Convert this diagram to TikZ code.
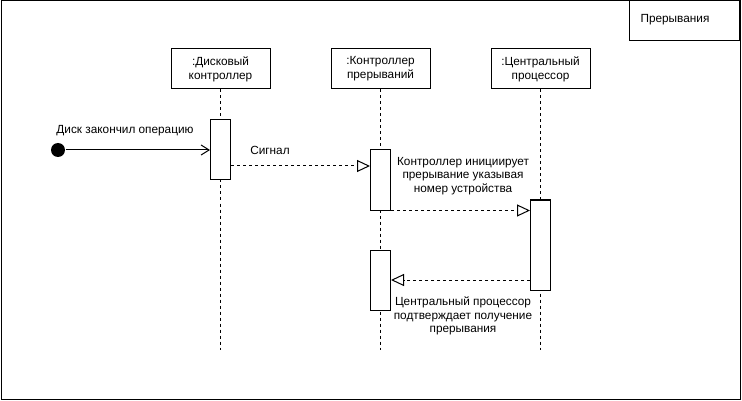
\documentclass[tikz,border=0pt]{standalone}
\usepackage{fontspec}
\setmainfont{Liberation Sans}
\usetikzlibrary{arrows.meta}
\begin{document}
\begin{tikzpicture}[x=1pt,y=-1pt,line width=1pt,
  txt/.style={font=\fontsize{11.8}{13.8}\selectfont, align=center, inner sep=0pt},
  head/.style={draw, fill=white, minimum width=99pt, minimum height=40pt, txt},
  act/.style={draw, fill=white, minimum width=20pt, inner sep=0pt},
  life/.style={dash pattern=on 3pt off 3pt},
  msg/.style={dash pattern=on 3pt off 3pt, -{Triangle[open,length=13pt,width=12pt]}},
  call/.style={-{Straight Barb[length=8pt,width=10pt,line width=1pt]}}
]
\useasboundingbox (0,0) rectangle (742,401);
\draw (1,1) rectangle (740,399);
\node[draw, minimum width=110pt, minimum height=40pt, anchor=north east, inner sep=0pt] (frame) at (740,0) {};
\node[txt] (title) at (675,20) {Прерывания};

% heads
\node[head] (h1) at (220.5,69) {:Дисковый\\контроллер};
\node[head] (h2) at (380.5,69) {:Контроллер\\прерываний};
\node[head] (h3) at (540.5,69) {:Центральный\\процессор};

% lifeline ends
\coordinate (e1) at (220.5,350);
\coordinate (e2) at (380.5,350);
\coordinate (e3) at (540.5,350);
\draw[life] (h1.south) -- (e1);
\draw[life] (h2.south) -- (e2);
\draw[life] (h3.south) -- (e3);

% activations
\node[act, minimum height=60pt] (a1) at (220.5,150) {};
\node[act, minimum height=60pt] (a2) at (380.5,180) {};
\node[act, minimum height=90pt] (a3) at (540.5,245) {};
\node[act, minimum height=60pt] (a4) at (380.5,280) {};

% start
\node[circle, fill=black, minimum size=14pt, inner sep=0pt] (start) at (58,150) {};
\draw[call] (start.east) -- (a1.west |- start);
\node[txt] (l0) at (125,131) {Диск закончил операцию};

% messages
\draw[msg] (a1.east |- 0,166) -- (a2.west |- 0,166);
\node[txt] (l1) at (270,150) {Сигнал};

\draw[msg] (a2.south east) -- (a3.west |- a2.south);
\node[txt] (l2) at (463,176) {Контроллер инициирует\\прерывание указывая\\номер устройства};

\draw[msg] (a3.west |- 0,280) -- (a4.east |- 0,280);
\node[txt] (l3) at (463,316) {Центральный процессор\\подтверждает получение\\прерывания};
\end{tikzpicture}
\end{document}
